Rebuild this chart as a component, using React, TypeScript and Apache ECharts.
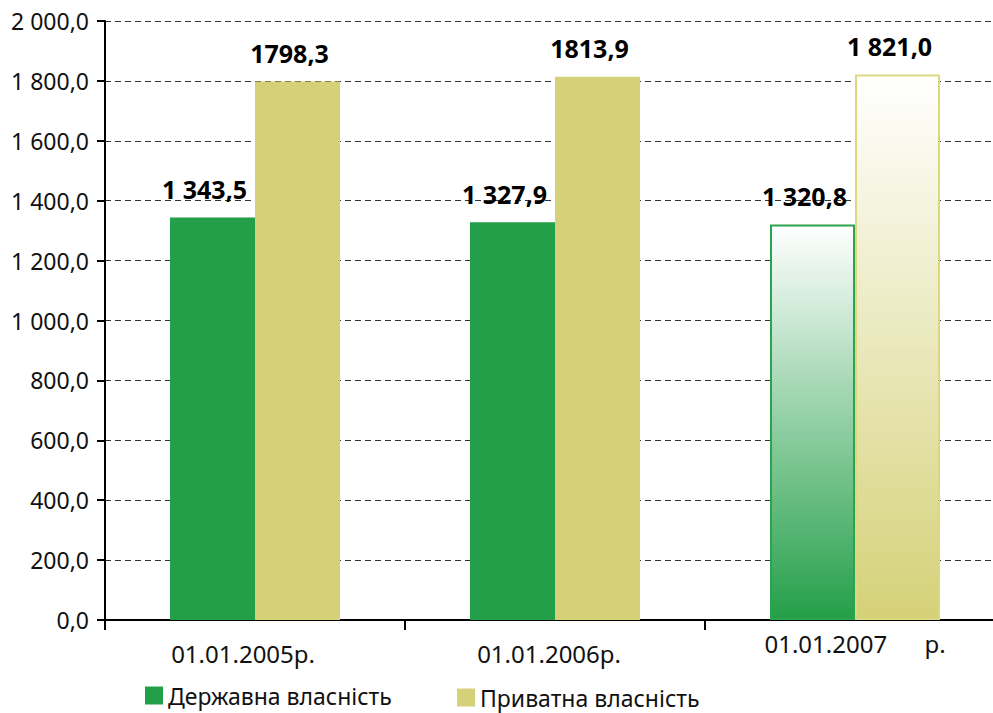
import React, { useEffect, useRef } from "react";
import * as echarts from "echarts";

const categories = ["01.01.2005р.", "01.01.2006р.", "01.01.2007      р."];
const stateValues = [1343.5, 1327.9, 1320.8];
const privateValues = [1798.3, 1813.9, 1821.0];
const stateLabels = ["1 343,5", "1 327,9", "1 320,8"];
const privateLabels = ["1798,3", "1813,9", "1 821,0"];
const seriesNames = ["Державна власність", "Приватна власність"];

const GREEN = "#249f49";
const YELLOW = "#d5d178";
const FONT = "Noto Sans";

function fmtAxis(v: number): string {
  const s = v.toFixed(1).replace(".", ",");
  const [intPart, dec] = s.split(",");
  const withSpace = intPart.replace(/\B(?=(\d{3})+(?!\d))/g, " ");
  return withSpace + "," + dec;
}

export default function App() {
  const ref = useRef<HTMLDivElement>(null);
  useEffect(() => {
    document.body.style.margin = "0";
    const chart = echarts.init(ref.current!, null, { renderer: "svg" });
    const lastIdx = categories.length - 1;
    const grad = (c: string) =>
      new echarts.graphic.LinearGradient(0, 0, 0, 1, [
        { offset: 0, color: "#ffffff" },
        { offset: 1, color: c },
      ]);
    const mkData = (vals: number[], color: string, border: string) =>
      vals.map((v, i) =>
        i === lastIdx
          ? { value: v, itemStyle: { color: grad(color), borderColor: border, borderWidth: 2 } }
          : { value: v }
      );
    const legendText = { fontSize: 23, color: "#111", fontFamily: FONT, lineHeight: 20 };
    const barLabel = {
      show: true,
      position: "top",
      distance: 16,
      offset: [-8, 0],
      color: "#000",
      fontWeight: "bold",
      fontSize: 25,
      fontFamily: FONT,
    };
    chart.setOption({
      animation: false,
      textStyle: { fontFamily: FONT },
      grid: { left: 105, top: 21, width: 900, height: 599, outerBoundsMode: "none", containLabel: false },
      legend: [
        {
          data: [seriesNames[0]],
          left: 145,
          top: 684,
          icon: "rect",
          itemWidth: 18,
          itemHeight: 18,
          itemGap: 8,
          padding: 0,
          textStyle: legendText,
        },
        {
          data: [seriesNames[1]],
          left: 457,
          top: 686,
          icon: "rect",
          itemWidth: 18,
          itemHeight: 18,
          padding: 0,
          textStyle: legendText,
        },
      ],
      xAxis: {
        type: "category",
        data: categories,
        axisLine: { lineStyle: { color: "#000", width: 2 } },
        axisTick: { show: true, interval: 0, length: 10, lineStyle: { color: "#000", width: 2 } },
        axisLabel: {
          interval: 0,
          hideOverlap: false,
          margin: 14,
          color: "#111",
          fontSize: 24,
          fontFamily: FONT,
          formatter: (v: string, i: number) => `{c${i}|${v}}`,
          rich: {
            c0: { fontSize: 24, fontFamily: FONT, color: "#111", padding: [7, 24, 0, 0] },
            c1: { fontSize: 24, fontFamily: FONT, color: "#111", padding: [7, 12, 0, 0] },
            c2: { fontSize: 24, fontFamily: FONT, color: "#111", padding: [-3, 0, 0, 0] },
          },
        },
      },
      yAxis: {
        type: "value",
        min: 0,
        max: 2000,
        interval: 200,
        axisLine: { show: true, lineStyle: { color: "#000", width: 2 } },
        axisTick: { show: true, length: 8, lineStyle: { color: "#000", width: 2 } },
        axisLabel: {
          margin: 16,
          color: "#111",
          fontSize: 23,
          fontFamily: FONT,
          formatter: (v: number) => fmtAxis(v),
        },
        splitLine: { show: true, lineStyle: { color: "#333", type: [6, 4], width: 1 } },
      },
      series: [
        {
          name: seriesNames[0],
          type: "bar",
          barWidth: 85,
          barGap: "0%",
          itemStyle: { color: GREEN },
          data: mkData(stateValues, GREEN, "#2ea34f"),
          label: { ...barLabel, formatter: (p: any) => stateLabels[p.dataIndex] },
        },
        {
          name: seriesNames[1],
          type: "bar",
          barWidth: 85,
          barGap: "0%",
          itemStyle: { color: YELLOW },
          data: mkData(privateValues, YELLOW, "#dcd880"),
          label: { ...barLabel, formatter: (p: any) => privateLabels[p.dataIndex] },
        },
      ],
    });
    return () => chart.dispose();
  }, []);
  return <div ref={ref} style={{ width: 993, height: 713 }} />;
}
